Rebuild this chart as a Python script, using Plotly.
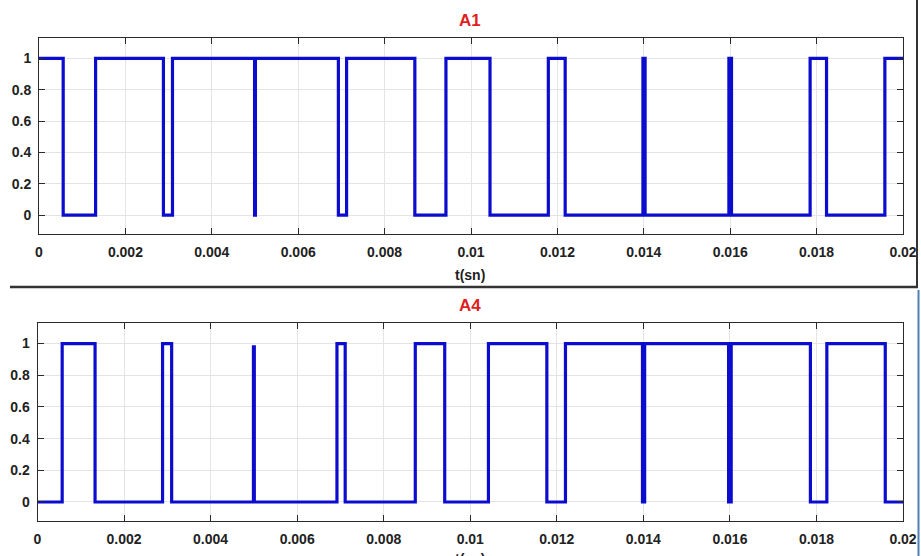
import plotly.graph_objects as go

# ---- data ----
a1_t = [0.0, 0.00056, 0.00131, 0.00288, 0.00309, 0.00499, 0.00501, 0.00693, 0.00712,
        0.00870, 0.00942, 0.01044, 0.01179, 0.01218, 0.01398, 0.01403, 0.01597, 0.01603,
        0.01785, 0.01823, 0.01958, 0.02]
a1_v = [1, 0, 1, 0, 1, 0, 1, 0, 1,
        0, 1, 0, 1, 0, 1, 0, 1, 0,
        1, 0, 1, 1]

a4_t = [0.0, 0.00057, 0.00133, 0.00289, 0.00310, 0.00499, 0.00501, 0.00692, 0.00711,
        0.00873, 0.00941, 0.01042, 0.01177, 0.01220, 0.01398, 0.01403, 0.01597, 0.01603,
        0.01786, 0.01824, 0.01959, 0.02]
a4_v = [0, 1, 0, 1, 0, 0.98, 0, 1, 0,
        1, 0, 1, 0, 1, 0, 1, 0, 1,
        0, 1, 0, 0]

x_ticks = [0, 0.002, 0.004, 0.006, 0.008, 0.01, 0.012, 0.014, 0.016, 0.018, 0.02]
x_ticktext = ["0", "0.002", "0.004", "0.006", "0.008", "0.01", "0.012", "0.014", "0.016", "0.018", "0.02"]
y_ticks = [0, 0.2, 0.4, 0.6, 0.8, 1]
y_ticktext = ["0", "0.2", "0.4", "0.6", "0.8", "1"]
titles = ["A1", "A4"]
x_label = "t(sn)"

# ---- figure ----
W, H = 921, 556
LINE = "#0C0CCF"
FONT = "Liberation Sans"

def px_y(y):
    return 1 - y / H

def px_x(x):
    return x / W

fig = go.Figure()
fig.add_trace(go.Scatter(x=a1_t, y=a1_v, mode="lines", line=dict(color=LINE, width=3.2, shape="hv"),
                         xaxis="x", yaxis="y", showlegend=False))
fig.add_trace(go.Scatter(x=a4_t, y=a4_v, mode="lines", line=dict(color=LINE, width=3.2, shape="hv"),
                         xaxis="x2", yaxis="y2", showlegend=False))

tickfont = dict(family=FONT, size=14, color="#222222", weight="bold")
common_x = dict(range=[0, 0.02], tickvals=x_ticks, ticktext=x_ticktext, showgrid=True,
                gridcolor="#E4E4E4", gridwidth=1, showline=True, linecolor="#2A2A2A", linewidth=1,
                mirror="ticks", ticks="inside", ticklen=6, tickcolor="#2A2A2A", tickfont=tickfont,
                zeroline=False, ticklabelstandoff=5, automargin=False)
common_y = dict(range=[-0.12, 1.13], tickvals=y_ticks, ticktext=y_ticktext, showgrid=True,
                gridcolor="#E4E4E4", gridwidth=1, showline=True, linecolor="#2A2A2A", linewidth=1,
                mirror="ticks", ticks="inside", ticklen=6, tickcolor="#2A2A2A", tickfont=tickfont,
                zeroline=False, ticklabelstandoff=4, automargin=False)

top_y0, top_y1 = 38, 234
bot_y0, bot_y1 = 323, 521

fig.update_layout(
    width=W, height=H, margin=dict(l=0, r=0, t=0, b=0, autoexpand=False),
    paper_bgcolor="white", plot_bgcolor="white",
    xaxis=dict(domain=[px_x(39), px_x(903)], anchor="y", **common_x),
    yaxis=dict(domain=[px_y(top_y1), px_y(top_y0)], anchor="x", **common_y),
    xaxis2=dict(domain=[px_x(37.5), px_x(903)], anchor="y2", **common_x),
    yaxis2=dict(domain=[px_y(bot_y1), px_y(bot_y0)], anchor="x2", **common_y),
)

title_font = dict(family=FONT, size=17, color="#E01E1E", weight="bold")
label_font = dict(family=FONT, size=14, color="#222222", weight="bold")
for txt, yc in zip(titles, [20, 305]):
    fig.add_annotation(text=txt, x=px_x(470), y=px_y(yc), xref="paper", yref="paper",
                       showarrow=False, font=title_font, xanchor="center", yanchor="middle")
for yc in [275, 559]:
    fig.add_annotation(text=x_label, x=px_x(470), y=px_y(yc), xref="paper", yref="paper",
                       showarrow=False, font=label_font, xanchor="center", yanchor="middle")

# window borders seen in the screenshot
fig.add_shape(type="line", xref="paper", yref="paper", x0=px_x(10), x1=px_x(918),
              y0=px_y(287), y1=px_y(287), line=dict(color="#333333", width=2.5))
fig.add_shape(type="line", xref="paper", yref="paper", x0=px_x(917), x1=px_x(917),
              y0=px_y(0), y1=px_y(287), line=dict(color="#333333", width=2))
fig.add_shape(type="line", xref="paper", yref="paper", x0=px_x(918.5), x1=px_x(918.5),
              y0=px_y(290), y1=px_y(556), line=dict(color="#4F7FB5", width=2))

fig.write_html("out.html", config={"displayModeBar": False},
               post_script="document.body.style.margin='0px';document.body.style.overflow='hidden';")
